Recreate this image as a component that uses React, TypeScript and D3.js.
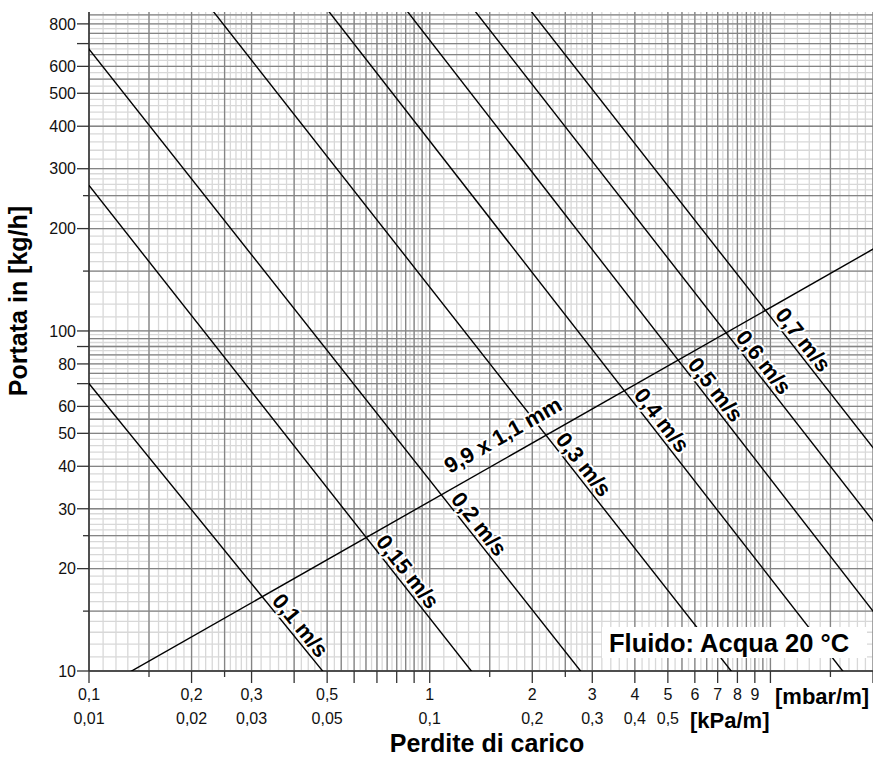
import React from 'react';
import * as d3 from 'd3';

const W = 873;
const H = 758;
const FONT = '"Liberation Sans", Arial, Helvetica, sans-serif';

// Axes domains (pressure drop in mbar/m, flow in kg/h)
const xDomain = [0.1, 20];
const yDomain = [10, 867];

// Ticks
const xTickLong = [0.1, 0.2, 0.3, 0.4, 0.5, 0.6, 0.7, 0.8, 0.9, 1, 2, 3, 4, 5, 6, 7, 8, 9, 10, 20];
const xTickShort = [0.15, 0.25, 1.5, 2.5, 15];
const mbarTickValues = [0.1, 0.2, 0.3, 0.5, 1, 2, 3, 4, 5, 6, 7, 8, 9];
const mbarTickLabels = ['0,1', '0,2', '0,3', '0,5', '1', '2', '3', '4', '5', '6', '7', '8', '9'];
const kPaTickValues = [0.1, 0.2, 0.3, 0.5, 1, 2, 3, 4, 5];
const kPaTickLabels = ['0,01', '0,02', '0,03', '0,05', '0,1', '0,2', '0,3', '0,4', '0,5'];

const yTickLong = [10, 20, 30, 40, 50, 60, 70, 80, 90, 100, 200, 300, 400, 500, 600, 700, 800];
const yTickShort = [15, 25, 150, 250];
const yLabelValues = [10, 20, 30, 40, 50, 60, 80, 100, 200, 300, 400, 500, 600, 800];
const yLabelTexts = ['10', '20', '30', '40', '50', '60', '80', '100', '200', '300', '400', '500', '600', '800'];

// Constant-velocity lines: two points (dp mbar/m, flow kg/h)
const velocityLabels = ['0,1 m/s', '0,15 m/s', '0,2 m/s', '0,3 m/s', '0,4 m/s', '0,5 m/s', '0,6 m/s', '0,7 m/s'];
const velocityStartDp = [0.1, 0.1, 0.1, 0.4157, 2.754, 2.754, 2.754, 2.754];
const velocityStartFlow = [70, 268, 674, 412.6, 98.4, 193.8, 352, 573];
const velocityEndDp = [0.485, 1.325, 2.772, 7.67, 16.3, 11.12, 17.84, 19.9];
const velocityEndFlow = [10, 10, 10, 10, 10, 32, 32, 45.7];

// Pipe characteristic line 9,9 x 1,1 mm
const pipeLabel = '9,9 x 1,1 mm';
const pipeDp = [0.1334, 20];
const pipeFlow = [10, 174];
const pipeLabelDp = 1.2;

const fluidLabel = 'Fluido: Acqua 20 °C';

// Grid paper pattern by mantissa ranges
const gridBands = [
  { from: 1, to: 3, minor: 0.1, major: 0.5 },
  { from: 3, to: 5, minor: 0.2, major: 1 },
  { from: 5, to: 10, minor: 0.25, major: 0.5 },
];

function gridValues(lo: number, hi: number) {
  const minor: number[] = [];
  const major: number[] = [];
  for (let e = -2; e <= 3; e++) {
    const b = Math.pow(10, e);
    for (const band of gridBands) {
      const nMin = Math.round((band.to - band.from) / band.minor);
      for (let i = 0; i <= nMin; i++) {
        const v = +(b * (band.from + i * band.minor)).toPrecision(6);
        if (v >= lo * 0.9999 && v <= hi * 1.0001) minor.push(v);
      }
      const nMaj = Math.round((band.to - band.from) / band.major);
      for (let i = 0; i <= nMaj; i++) {
        const v = +(b * (band.from + i * band.major)).toPrecision(6);
        if (v >= lo * 0.9999 && v <= hi * 1.0001) major.push(v);
      }
    }
  }
  return { minor: Array.from(new Set(minor)), major: Array.from(new Set(major)) };
}

export default function App() {
  const left = 89, right = 873, top = 12, bottom = 671;
  const x = d3.scaleLog().domain(xDomain).range([left, right]);
  const y = d3.scaleLog().domain(yDomain).range([bottom, top]);

  const gx = gridValues(xDomain[0], xDomain[1]);
  const gy = gridValues(yDomain[0], yDomain[1]);

  const lightC = '#d8d8d8';
  const darkC = '#858585';

  // line through two data points, extended to the whole x domain
  const fullLine = (x1: number, y1: number, x2: number, y2: number) => {
    const px1 = x(x1), py1 = y(y1), px2 = x(x2), py2 = y(y2);
    const m = (py2 - py1) / (px2 - px1);
    return { a: [left - 5, py1 + m * (left - 5 - px1)], b: [right + 5, py1 + m * (right + 5 - px1)], m, p: [px1, py1] };
  };

  const pipe = fullLine(pipeDp[0], pipeFlow[0], pipeDp[1], pipeFlow[1]);
  const vel = velocityLabels.map((_, i) =>
    fullLine(velocityStartDp[i], velocityStartFlow[i], velocityEndDp[i], velocityEndFlow[i])
  );

  const lineGen = d3.line();

  const intersect = (l1: any, l2: any) => {
    const xi = (l2.p[1] - l1.p[1] + l1.m * l1.p[0] - l2.m * l2.p[0]) / (l1.m - l2.m);
    return [xi, l1.p[1] + l1.m * (xi - l1.p[0])];
  };

  const halo = {
    stroke: '#fff',
    strokeWidth: 4,
    paintOrder: 'stroke' as any,
    strokeLinejoin: 'round' as any,
  };

  const pipeAngle = Math.atan(pipe.m);
  const pipeV = [Math.sin(pipeAngle), -Math.cos(pipeAngle)];
  const plx = x(pipeLabelDp);
  const ply = pipe.p[1] + pipe.m * (plx - pipe.p[0]);
  const pipeOrigin = [plx + 14 * pipeV[0], ply + 14 * pipeV[1]];

  return (
    <svg
      width={W}
      height={H}
      style={{ position: 'absolute', left: 0, top: 0, background: '#fff' }}
      fontFamily={FONT}
    >
      <defs>
        <clipPath id="plotClip">
          <rect x={left} y={top} width={right - left} height={bottom - top} />
        </clipPath>
      </defs>
      <rect x={0} y={0} width={W} height={H} fill="#fff" />

      {/* light grid */}
      <g stroke={lightC} strokeWidth={1.3}>
        {gx.minor.map((v, i) => (
          <line key={'gxm' + i} x1={x(v)} x2={x(v)} y1={top} y2={bottom} />
        ))}
        {gy.minor.map((v, i) => (
          <line key={'gym' + i} x1={left} x2={right} y1={y(v)} y2={y(v)} />
        ))}
      </g>
      {/* dark grid */}
      <g stroke={darkC} strokeWidth={1.3}>
        {gx.major.map((v, i) => (
          <line key={'gxM' + i} x1={x(v)} x2={x(v)} y1={top} y2={bottom} />
        ))}
        {gy.major.map((v, i) => (
          <line key={'gyM' + i} x1={left} x2={right} y1={y(v)} y2={y(v)} />
        ))}
      </g>

      {/* axis lines */}
      <line x1={left} x2={left} y1={top} y2={bottom} stroke="#333" strokeWidth={1.5} />
      <line x1={left} x2={right} y1={bottom} y2={bottom} stroke="#333" strokeWidth={1.5} />

      {/* data lines */}
      <g clipPath="url(#plotClip)" fill="none" stroke="#000" strokeWidth={1.4}>
        <path d={lineGen([pipe.a as [number, number], pipe.b as [number, number]]) || ''} />
        {vel.map((l, i) => (
          <path key={'v' + i} d={lineGen([l.a as [number, number], l.b as [number, number]]) || ''} />
        ))}
      </g>

      {/* velocity labels */}
      <g fontSize={22} fontWeight="bold" fill="#000">
        {vel.map((l, i) => {
          const P = intersect(l, pipe);
          const ang = Math.atan(l.m);
          const u = [Math.cos(ang), Math.sin(ang)];
          const v = [Math.sin(ang), -Math.cos(ang)];
          const ox = P[0] + 9 * u[0] + 4 * v[0];
          const oy = P[1] + 9 * u[1] + 4 * v[1];
          return (
            <text
              key={'vl' + i}
              transform={`translate(${ox},${oy}) rotate(${(ang * 180) / Math.PI})`}
              {...halo}
            >
              {velocityLabels[i]}
            </text>
          );
        })}
        <text
          transform={`translate(${pipeOrigin[0]},${pipeOrigin[1]}) rotate(${(pipeAngle * 180) / Math.PI})`}
          {...halo}
        >
          {pipeLabel}
        </text>
      </g>

      {/* fluid box */}
      <rect x={602} y={627} width={265} height={31} fill="#fff" />
      <text x={609} y={652} fontSize={25.5} fontWeight="bold" fill="#000">
        {fluidLabel}
      </text>

      {/* ticks */}
      <g stroke="#333" strokeWidth={1.3}>
        {xTickLong.map((v, i) => (
          <line key={'xt' + i} x1={x(v)} x2={x(v)} y1={bottom} y2={bottom + 12} />
        ))}
        {xTickShort.map((v, i) => (
          <line key={'xts' + i} x1={x(v)} x2={x(v)} y1={bottom} y2={bottom + 6} />
        ))}
        {yTickLong.map((v, i) => (
          <line key={'yt' + i} x1={left - 12} x2={left} y1={y(v)} y2={y(v)} />
        ))}
        {yTickShort.map((v, i) => (
          <line key={'yts' + i} x1={left - 6} x2={left} y1={y(v)} y2={y(v)} />
        ))}
      </g>

      {/* tick labels */}
      <g fontSize={16} fill="#111">
        {mbarTickValues.map((v, i) => (
          <text key={'mb' + i} x={x(v)} y={700} textAnchor="middle">
            {mbarTickLabels[i]}
          </text>
        ))}
        {kPaTickValues.map((v, i) => (
          <text key={'kp' + i} x={x(v)} y={724} textAnchor="middle">
            {kPaTickLabels[i]}
          </text>
        ))}
        {yLabelValues.map((v, i) => (
          <text key={'yl' + i} x={76} y={y(v)} dy="0.36em" textAnchor="end">
            {yLabelTexts[i]}
          </text>
        ))}
      </g>

      {/* unit labels */}
      <text x={775} y={704} fontSize={22} fontWeight="bold">[mbar/m]</text>
      <text x={690} y={728} fontSize={22} fontWeight="bold">[kPa/m]</text>

      {/* axis titles */}
      <text x={487} y={752} fontSize={25} fontWeight="bold" textAnchor="middle">
        Perdite di carico
      </text>
      <text
        transform={`translate(27,301) rotate(-90)`}
        fontSize={25}
        fontWeight="bold"
        textAnchor="middle"
      >
        Portata in [kg/h]
      </text>
    </svg>
  );
}
